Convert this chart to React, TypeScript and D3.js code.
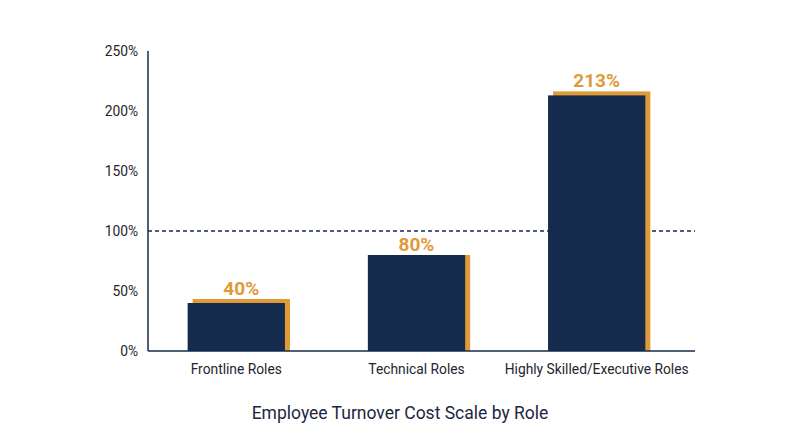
import { useRef, useEffect } from 'react';
import * as d3 from 'd3';

const categories = ['Frontline Roles', 'Technical Roles', 'Highly Skilled/Executive Roles'];
const costValues = [40, 80, 213];
const yTicks = [0, 50, 100, 150, 200, 250];
const referenceValue = 100;
const chartTitle = 'Employee Turnover Cost Scale by Role';

// styling of the orange "shadow" behind each bar (px offsets)
const shadowDx = [5, 5, 5];
const shadowDy = [4, 0, 4];
const labelDx = [5, 0, 0];

const NAVY = '#152b4d';
const ORANGE = '#e09a37';

export default function App() {
    const chartRef = useRef<SVGSVGElement>(null);

    useEffect(() => {
        if (!chartRef.current) return;
        const svg = d3.select(chartRef.current);
        svg.selectAll('*').remove();

        const left = 148;
        const right = 695;
        const top = 51;
        const bottom = 351;

        // scales
        const x = d3.scaleBand<string>()
            .domain(categories)
            .range([left, 685])
            .paddingInner(0.46)
            .paddingOuter(0.22);

        const y = d3.scaleLinear()
            .domain([0, 250])
            .range([bottom, top]);

        const font = 'Roboto, sans-serif';

        // y axis labels
        svg.append('g')
            .selectAll('text')
            .data(yTicks)
            .enter()
            .append('text')
            .attr('x', 138)
            .attr('y', d => y(d))
            .attr('dy', '0.35em')
            .attr('text-anchor', 'end')
            .attr('font-family', font)
            .attr('font-size', 13.8)
            .attr('fill', '#23262e')
            .text(d => `${d}%`);

        // reference line at 100%
        svg.append('line')
            .attr('x1', left)
            .attr('x2', right)
            .attr('y1', y(referenceValue))
            .attr('y2', y(referenceValue))
            .attr('stroke', NAVY)
            .attr('stroke-width', 1.3)
            .attr('stroke-dasharray', '4,3');

        const bars = svg.selectAll('g.bar')
            .data(categories)
            .enter()
            .append('g')
            .attr('class', 'bar');

        // orange shadow bars (offset up/right)
        bars.append('rect')
            .attr('x', (d, i) => (x(d) ?? 0) + shadowDx[i])
            .attr('y', (d, i) => y(costValues[i]) - shadowDy[i])
            .attr('width', x.bandwidth())
            .attr('height', (d, i) => bottom - y(costValues[i]) + shadowDy[i])
            .attr('fill', ORANGE);

        // navy bars
        bars.append('rect')
            .attr('x', d => x(d) ?? 0)
            .attr('y', (d, i) => y(costValues[i]))
            .attr('width', x.bandwidth())
            .attr('height', (d, i) => bottom - y(costValues[i]))
            .attr('fill', NAVY);

        // value labels
        bars.append('text')
            .attr('x', (d, i) => (x(d) ?? 0) + x.bandwidth() / 2 + labelDx[i])
            .attr('y', (d, i) => y(costValues[i]) - shadowDy[i] - 4.5)
            .attr('text-anchor', 'middle')
            .attr('font-family', font)
            .attr('font-weight', 'bold')
            .attr('font-size', 19)
            .attr('fill', ORANGE)
            .text((d, i) => `${costValues[i]}%`);

        // category labels
        bars.append('text')
            .attr('x', d => (x(d) ?? 0) + x.bandwidth() / 2)
            .attr('y', 374)
            .attr('text-anchor', 'middle')
            .attr('font-family', font)
            .attr('font-size', 13.8)
            .attr('fill', '#23262e')
            .text(d => d);

        // axes lines
        svg.append('line')
            .attr('x1', left)
            .attr('x2', left)
            .attr('y1', top)
            .attr('y2', bottom)
            .attr('stroke', NAVY)
            .attr('stroke-width', 1.5);

        svg.append('line')
            .attr('x1', left)
            .attr('x2', right)
            .attr('y1', bottom)
            .attr('y2', bottom)
            .attr('stroke', NAVY)
            .attr('stroke-width', 1.5);

        // title
        svg.append('text')
            .attr('x', 400)
            .attr('y', 419)
            .attr('text-anchor', 'middle')
            .attr('font-family', font)
            .attr('font-size', 17.5)
            .attr('fill', '#1c2740')
            .text(chartTitle);
    }, []);

    return (
        <svg
            ref={chartRef}
            width={800}
            height={447}
            style={{ position: 'absolute', left: 0, top: 0, background: '#fff' }}
        />
    );
}
